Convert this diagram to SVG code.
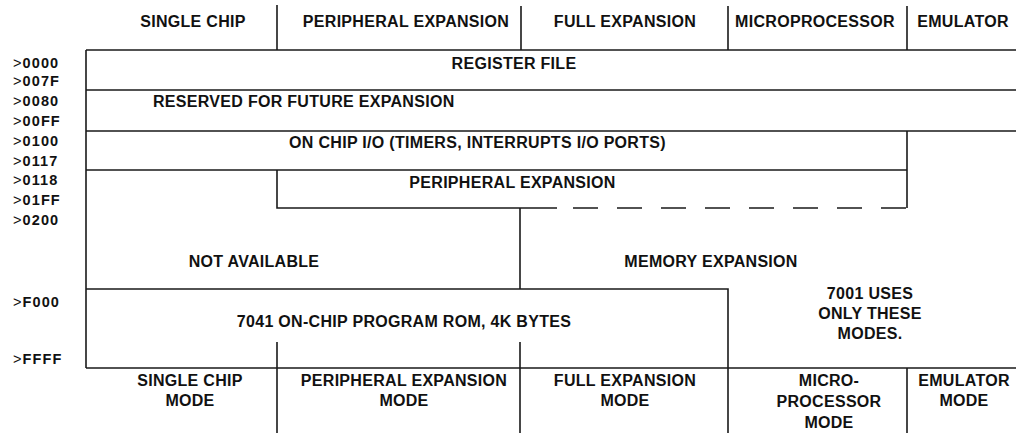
<svg xmlns="http://www.w3.org/2000/svg" width="1016" height="433" viewBox="0 0 1016 433">
<style>
.t{font-family:"Liberation Sans",Arial,Helvetica,sans-serif;font-weight:bold;font-size:16px;fill:#111;letter-spacing:0.3px}
.m{text-anchor:middle}
.a{font-family:"Liberation Sans",Arial,Helvetica,sans-serif;font-weight:bold;font-size:14.5px;fill:#111;letter-spacing:1.1px}
.gt{font-weight:normal}
.ln{fill:none;stroke:#1a1a1a;stroke-width:1.6}
.dash{stroke-dasharray:25 19}
</style>
<rect width="1016" height="433" fill="#fff"/>
<g id="connectors">
<path class="ln" d="M277,5V50M521,6V50M728,6V50M907,6V50"/>
<path class="ln" d="M86,50H1016M86,50V368M86,90H1016M86,131H1016M86,170H907M907,131V208"/>
<path class="ln" d="M277,170V208H557"/>
<path class="ln dash" d="M573,208H907"/>
<path class="ln" d="M520,208V289M86,289H728V433M86,368H1016M277,342V433M520,342V433M907,368V433"/>
</g>
<g id="header">
<text class="t m" x="193" y="27">SINGLE CHIP</text>
<text class="t m" x="406" y="27">PERIPHERAL EXPANSION</text>
<text class="t m" x="625" y="27">FULL EXPANSION</text>
<text class="t m" x="815" y="27">MICROPROCESSOR</text>
<text class="t m" x="963" y="27">EMULATOR</text>
</g>
<g id="addresses">
<text class="a" x="13" y="67.5"><tspan class="gt">&gt;</tspan>0000</text>
<text class="a" x="13" y="85.7"><tspan class="gt">&gt;</tspan>007F</text>
<text class="a" x="13" y="105.7"><tspan class="gt">&gt;</tspan>0080</text>
<text class="a" x="13" y="125.7"><tspan class="gt">&gt;</tspan>00FF</text>
<text class="a" x="13" y="145.7"><tspan class="gt">&gt;</tspan>0100</text>
<text class="a" x="13" y="165.7"><tspan class="gt">&gt;</tspan>0117</text>
<text class="a" x="13" y="184.5"><tspan class="gt">&gt;</tspan>0118</text>
<text class="a" x="13" y="204.5"><tspan class="gt">&gt;</tspan>01FF</text>
<text class="a" x="13" y="225"><tspan class="gt">&gt;</tspan>0200</text>
<text class="a" x="13" y="306.5"><tspan class="gt">&gt;</tspan>F000</text>
<text class="a" x="13" y="364"><tspan class="gt">&gt;</tspan>FFFF</text>
</g>
<g id="register-file"><text class="t m" x="514" y="69">REGISTER FILE</text></g>
<g id="reserved"><text class="t" x="153" y="106.5">RESERVED FOR FUTURE EXPANSION</text></g>
<g id="on-chip-io"><text class="t m" x="477.5" y="148">ON CHIP I/O (TIMERS, INTERRUPTS I/O PORTS)</text></g>
<g id="peripheral-expansion"><text class="t m" x="512.5" y="188">PERIPHERAL EXPANSION</text></g>
<g id="not-available"><text class="t m" x="254" y="266.5">NOT AVAILABLE</text></g>
<g id="memory-expansion"><text class="t m" x="711" y="266.5">MEMORY EXPANSION</text></g>
<g id="rom"><text class="t m" x="404" y="326.5">7041 ON-CHIP PROGRAM ROM, 4K BYTES</text></g>
<g id="note-7001">
<text class="t m" x="870" y="299">7001 USES</text>
<text class="t m" x="870" y="319">ONLY THESE</text>
<text class="t m" x="870" y="339">MODES.</text>
</g>
<g id="mode-single-chip">
<text class="t m" x="190" y="386">SINGLE CHIP</text>
<text class="t m" x="190" y="406">MODE</text>
</g>
<g id="mode-peripheral">
<text class="t m" x="404" y="386">PERIPHERAL EXPANSION</text>
<text class="t m" x="404" y="406">MODE</text>
</g>
<g id="mode-full">
<text class="t m" x="625" y="386">FULL EXPANSION</text>
<text class="t m" x="625" y="406">MODE</text>
</g>
<g id="mode-microprocessor">
<text class="t m" x="829" y="386">MICRO-</text>
<text class="t m" x="829" y="407">PROCESSOR</text>
<text class="t m" x="829" y="428">MODE</text>
</g>
<g id="mode-emulator">
<text class="t m" x="964" y="386">EMULATOR</text>
<text class="t m" x="964" y="406">MODE</text>
</g>
</svg>
